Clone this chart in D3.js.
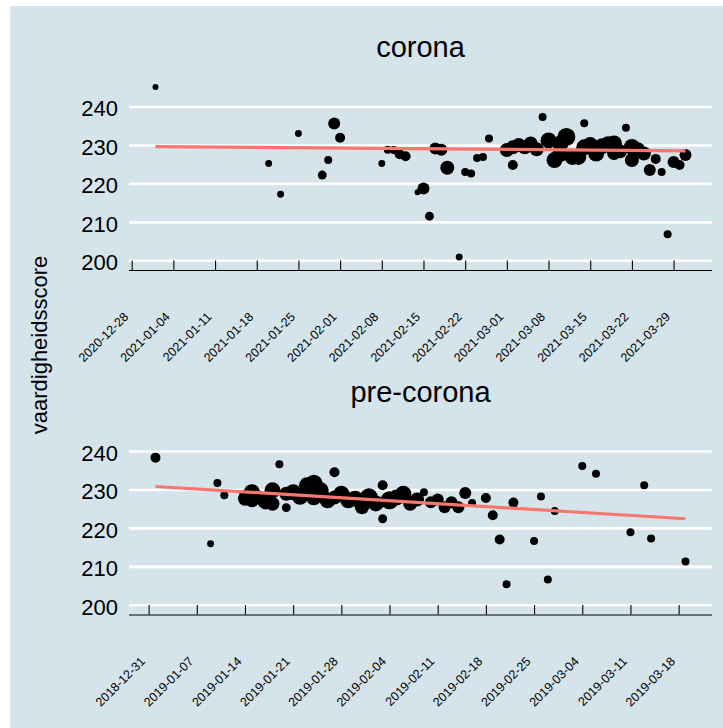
<!DOCTYPE html>
<html>
<head>
<meta charset="utf-8">
<script src="https://cdn.jsdelivr.net/npm/d3@7"></script>
<style>
    body { margin: 0; background: #ffffff; }
    text { font-family: "Liberation Sans", Arial, sans-serif; fill: #000000; }
</style>
</head>
<body>
<svg id="chart"></svg>
<script>
// [date, score, size]
const coronaPoints = [
    ["2021-01-01", 245.2, 9], ["2021-01-20", 225.3, 12], ["2021-01-22", 217.3, 12],
    ["2021-01-25", 233.1, 12], ["2021-01-29", 222.3, 20], ["2021-01-30", 226.2, 16],
    ["2021-01-31", 235.7, 36], ["2021-02-01", 232.0, 25], ["2021-02-08", 225.3, 12],
    ["2021-02-09", 228.9, 16], ["2021-02-10", 228.8, 16], ["2021-02-11", 227.7, 25],
    ["2021-02-12", 227.2, 25], ["2021-02-14", 217.8, 9], ["2021-02-15", 218.8, 36],
    ["2021-02-16", 211.6, 20], ["2021-02-17", 229.2, 36], ["2021-02-18", 228.9, 36],
    ["2021-02-19", 224.2, 49], ["2021-02-21", 201.0, 12], ["2021-02-22", 223.1, 16],
    ["2021-02-23", 222.7, 16], ["2021-02-24", 226.7, 16], ["2021-02-25", 227.0, 16],
    ["2021-02-26", 231.8, 16], ["2021-03-01", 228.8, 49], ["2021-03-02", 224.9, 25],
    ["2021-03-02", 229.5, 49], ["2021-03-03", 230.1, 49], ["2021-03-04", 229.5, 49],
    ["2021-03-05", 230.5, 49], ["2021-03-06", 229.0, 49], ["2021-03-07", 237.4, 16],
    ["2021-03-08", 231.3, 64], ["2021-03-09", 226.2, 64], ["2021-03-10", 230.5, 64],
    ["2021-03-10", 227.8, 64], ["2021-03-11", 232.2, 81], ["2021-03-12", 227.0, 64],
    ["2021-03-13", 227.0, 64], ["2021-03-14", 235.8, 16], ["2021-03-14", 229.5, 64],
    ["2021-03-15", 230.1, 64], ["2021-03-16", 227.9, 64], ["2021-03-17", 229.8, 64],
    ["2021-03-18", 230.3, 64], ["2021-03-19", 230.5, 64], ["2021-03-19", 228.0, 49],
    ["2021-03-20", 228.5, 49], ["2021-03-21", 234.6, 16], ["2021-03-22", 229.6, 64],
    ["2021-03-22", 226.2, 49], ["2021-03-23", 229.0, 49], ["2021-03-24", 227.9, 49],
    ["2021-03-25", 223.6, 36], ["2021-03-26", 226.5, 25], ["2021-03-27", 223.1, 16],
    ["2021-03-28", 206.9, 16], ["2021-03-29", 225.7, 36], ["2021-03-30", 224.9, 25],
    ["2021-03-31", 227.5, 36]
];

const preCoronaPoints = [
    ["2019-01-01", 238.4, 25], ["2019-01-09", 216.0, 12], ["2019-01-10", 231.8, 16],
    ["2019-01-11", 228.6, 16], ["2019-01-14", 227.7, 49], ["2019-01-14", 228.5, 36],
    ["2019-01-15", 229.4, 64], ["2019-01-15", 227.3, 49], ["2019-01-16", 228.0, 49],
    ["2019-01-17", 227.0, 64], ["2019-01-18", 229.9, 64], ["2019-01-18", 226.4, 49],
    ["2019-01-19", 236.7, 16], ["2019-01-20", 225.4, 20], ["2019-01-20", 229.0, 49],
    ["2019-01-21", 229.4, 64], ["2019-01-22", 228.2, 64], ["2019-01-23", 231.2, 64],
    ["2019-01-24", 231.6, 81], ["2019-01-24", 228.1, 64], ["2019-01-25", 229.9, 64],
    ["2019-01-26", 227.3, 64], ["2019-01-27", 234.6, 25], ["2019-01-27", 228.0, 49],
    ["2019-01-28", 229.0, 64], ["2019-01-29", 227.3, 64], ["2019-01-30", 227.7, 64],
    ["2019-01-31", 225.5, 49], ["2019-02-01", 228.1, 81], ["2019-02-02", 226.5, 64],
    ["2019-02-03", 222.5, 20], ["2019-02-03", 231.2, 25], ["2019-02-04", 227.3, 81],
    ["2019-02-05", 228.0, 64], ["2019-02-06", 229.0, 64], ["2019-02-07", 226.4, 49],
    ["2019-02-08", 227.5, 49], ["2019-02-09", 229.4, 16], ["2019-02-10", 226.8, 36],
    ["2019-02-11", 227.5, 36], ["2019-02-12", 225.5, 36], ["2019-02-13", 226.8, 36],
    ["2019-02-14", 225.5, 36], ["2019-02-15", 229.2, 36], ["2019-02-16", 226.6, 16],
    ["2019-02-18", 227.9, 25], ["2019-02-19", 223.4, 25], ["2019-02-20", 217.1, 25],
    ["2019-02-21", 205.5, 16], ["2019-02-22", 226.7, 25], ["2019-02-25", 216.7, 16],
    ["2019-02-26", 228.3, 16], ["2019-02-27", 206.7, 16], ["2019-02-28", 224.5, 16],
    ["2019-03-04", 236.2, 16], ["2019-03-06", 234.2, 16], ["2019-03-11", 219.0, 16],
    ["2019-03-13", 231.2, 16], ["2019-03-14", 217.4, 16], ["2019-03-19", 211.4, 16]
];

// trend line end points
const coronaTrend = [["2021-01-01", 229.7], ["2021-03-31", 228.6]];
const preCoronaTrend = [["2019-01-01", 230.9], ["2019-03-19", 222.5]];

const coronaTicks = ["2020-12-28", "2021-01-04", "2021-01-11", "2021-01-18", "2021-01-25",
    "2021-02-01", "2021-02-08", "2021-02-15", "2021-02-22", "2021-03-01", "2021-03-08",
    "2021-03-15", "2021-03-22", "2021-03-29"];
const preCoronaTicks = ["2018-12-31", "2019-01-07", "2019-01-14", "2019-01-21", "2019-01-28",
    "2019-02-04", "2019-02-11", "2019-02-18", "2019-02-25", "2019-03-04", "2019-03-11",
    "2019-03-18"];

const yTicks = [200, 210, 220, 230, 240];
const yLimits = [197.6, 247.8];
const panelTitles = ["corona", "pre-corona"];

// Dimensions
let width = 723;
let height = 728;
let left = 129;
let right = 712;
let panelHeight = 193;
let panelTops = [77, 421.5];

let parse = d3.utcParse("%Y-%m-%d");

let svg = d3.select("#chart")
    .attr("width", width)
    .attr("height", height);

// Background
svg.append("rect")
    .attr("x", 10)
    .attr("y", 6)
    .attr("width", width - 10)
    .attr("height", height - 6)
    .attr("fill", "#d5e4eb");

let sizeScale = d3.scaleSqrt()
    .domain([0, 64])
    .range([0, 8]);

function drawPanel(points, trend, ticks, title, top) {
    let bottom = top + panelHeight;
    let g = svg.append("g");

    // x domain like ggplot: data range plus 5% each side
    let ext = d3.extent(points, d => parse(d[0]));
    let pad = (ext[1] - ext[0]) * 0.05;
    let xScale = d3.scaleUtc()
        .domain([new Date(+ext[0] - pad), new Date(+ext[1] + pad)])
        .range([left, right]);

    let yScale = d3.scaleLinear()
        .domain(yLimits)
        .range([bottom, top]);

    // Gridlines
    g.selectAll(".grid")
        .data(yTicks)
        .enter().append("line")
        .attr("x1", left)
        .attr("x2", right)
        .attr("y1", d => yScale(d))
        .attr("y2", d => yScale(d))
        .attr("stroke", "#ffffff")
        .attr("stroke-width", 2.6);

    // y labels
    g.selectAll(".ylab")
        .data(yTicks)
        .enter().append("text")
        .attr("x", 118)
        .attr("y", d => yScale(d))
        .attr("dy", "0.42em")
        .attr("text-anchor", "end")
        .style("font-size", "22px")
        .text(d => d);

    // x axis, ticks pointing inward
    let xAxis = g.append("g")
        .attr("transform", `translate(0, ${bottom})`)
        .call(d3.axisBottom(xScale)
            .tickValues(ticks.map(parse))
            .tickSizeInner(-9.5)
            .tickSizeOuter(0)
            .tickFormat(""));
    xAxis.select(".domain").attr("stroke", "#000").attr("stroke-width", 1.1)
        .attr("d", `M${left},0.5H${right}`);
    xAxis.selectAll(".tick line").attr("stroke", "#000").attr("stroke-width", 1.1);

    // rotated date labels
    g.selectAll(".xlab")
        .data(ticks)
        .enter().append("text")
        .attr("transform", d => `translate(${xScale(parse(d)) - 2.6}, ${bottom + 47.6}) rotate(-45)`)
        .attr("text-anchor", "end")
        .style("font-size", "12.5px")
        .text(d => d);

    // points
    g.selectAll(".pt")
        .data(points)
        .enter().append("circle")
        .attr("cx", d => xScale(parse(d[0])))
        .attr("cy", d => yScale(d[1]))
        .attr("r", d => sizeScale(d[2]))
        .attr("fill", "#000000");

    // trend line
    g.append("path")
        .datum(trend)
        .attr("d", d3.line()
            .x(d => xScale(parse(d[0])))
            .y(d => yScale(d[1])))
        .attr("fill", "none")
        .attr("stroke", "#f8766d")
        .attr("stroke-width", 3.2);

    // strip title
    g.append("text")
        .attr("x", (left + right) / 2)
        .attr("y", top - 20)
        .attr("text-anchor", "middle")
        .style("font-size", "29px")
        .text(title);
}

drawPanel(coronaPoints, coronaTrend, coronaTicks, panelTitles[0], panelTops[0]);
drawPanel(preCoronaPoints, preCoronaTrend, preCoronaTicks, panelTitles[1], panelTops[1]);

// y axis title
svg.append("text")
    .attr("transform", "translate(47, 345) rotate(-90)")
    .attr("text-anchor", "middle")
    .style("font-size", "22px")
    .text("vaardigheidsscore");
</script>
</body>
</html>
